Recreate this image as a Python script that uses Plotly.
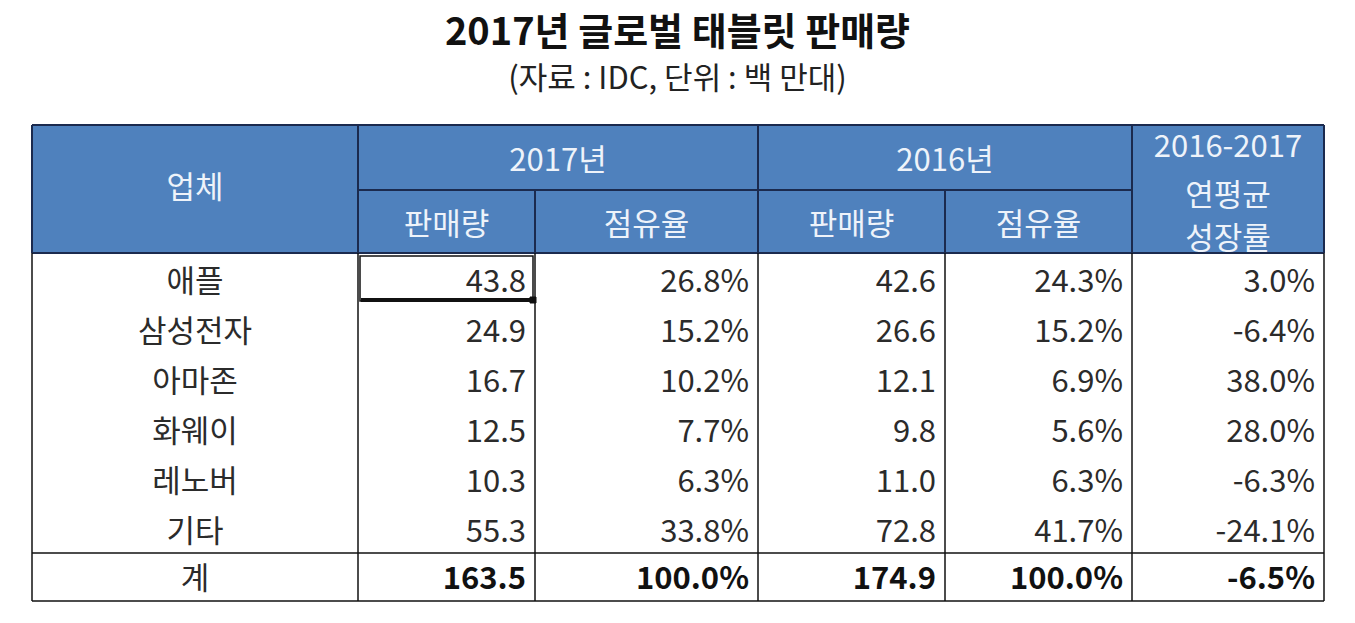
import plotly.graph_objects as go

# ---- data ----
title = "2017년 글로벌 태블릿 판매량"
subtitle = "(자료 : IDC, 단위 : 백 만대)"
companies = ["애플", "삼성전자", "아마존", "화웨이", "레노버", "기타"]
sales_2017 = [43.8, 24.9, 16.7, 12.5, 10.3, 55.3]
share_2017 = [26.8, 15.2, 10.2, 7.7, 6.3, 33.8]
sales_2016 = [42.6, 26.6, 12.1, 9.8, 11.0, 72.8]
share_2016 = [24.3, 15.2, 6.9, 5.6, 6.3, 41.7]
growth = [3.0, -6.4, 38.0, 28.0, -6.3, -24.1]
total_label = "계"
total_sales_2017 = 163.5
total_share_2017 = 100.0
total_sales_2016 = 174.9
total_share_2016 = 100.0
total_growth = -6.5
header_top = ["업체", "2017년", "2016년"]
header_growth = ["2016-2017", "연평균", "성장률"]
header_sub = ["판매량", "점유율", "판매량", "점유율"]

# ---- layout geometry (pixel-like coordinates on a blank axis) ----
W, H = 1355, 623
col = [32, 358, 535, 758, 945, 1132, 1324]
h_top, h_mid, h_bot = 125, 190, 253
row_h = 50
n = len(companies)
data_bot = h_bot + row_h * n
tot_bot = data_bot + 48
dy = 6  # baseline nudge for the font

HEAD_BG = "#4F81BD"
HEAD_LINE = "#1B2A4E"
HEAD_TXT = "#EEF3FA"
TXT = "#2B2B2B"
FONT = "Noto Sans CJK KR"
FS = 31
pad = 9

fig = go.Figure()
shapes = []

def rect(x0, y0, x1, y1, fill=None, color="black", width=1):
    shapes.append(dict(type="rect", xref="x", yref="y", x0=x0, y0=y0, x1=x1, y1=y1,
                       fillcolor=fill if fill else "rgba(0,0,0,0)",
                       line=dict(color=color, width=width), layer="below" if fill else "above"))

def line(x0, y0, x1, y1, color="black", width=1):
    shapes.append(dict(type="line", xref="x", yref="y", x0=x0, y0=y0, x1=x1, y1=y1,
                       line=dict(color=color, width=width)))

def text_trace(x, y, t, color, size=FS, pos="middle center"):
    fig.add_trace(go.Scatter(x=x, y=y, mode="text", text=t, cliponaxis=False,
                             textfont=dict(family=FONT, size=size, color=color),
                             textposition=pos, hoverinfo="skip"))

# header background
rect(col[0], h_top, col[-1], h_bot, fill=HEAD_BG, color=HEAD_BG, width=0)
# header lines
line(col[0], h_top, col[-1], h_top, HEAD_LINE, 2)
line(col[0], h_bot, col[-1], h_bot, HEAD_LINE, 2)
line(col[1], h_mid, col[5], h_mid, HEAD_LINE, 2)
for c in [col[0], col[1], col[3], col[5], col[6]]:
    line(c, h_top, c, h_bot, HEAD_LINE, 2)
for c in [col[2], col[4]]:
    line(c, h_mid, c, h_bot, HEAD_LINE, 2)
# body borders
for c in col:
    line(c, h_bot, c, tot_bot, "#111111", 1.5)
line(col[0], data_bot, col[-1], data_bot, "#111111", 1.5)
line(col[0], tot_bot, col[-1], tot_bot, "#111111", 1.5)
# excel selected cell
rect(col[1] + 2, h_bot + 3, col[2] - 2, h_bot + row_h - 2, color="#111111", width=1.5)
line(col[1] + 3, h_bot + row_h - 3, col[2] - 3, h_bot + row_h - 3, "#111111", 4)
rect(col[2] - 5, h_bot + row_h - 6, col[2] + 1, h_bot + row_h, fill="#111111", color="#111111", width=1)

# header texts
hx = [(col[0] + col[1]) / 2, (col[1] + col[3]) / 2, (col[3] + col[5]) / 2]
hy = [(h_top + h_bot) / 2 - 5 + dy, (h_top + h_mid) / 2 + dy, (h_top + h_mid) / 2 + dy]
text_trace(hx, hy, header_top, HEAD_TXT)
gx = (col[5] + col[6]) / 2
text_trace([gx] * 3, [146 + 3, 192 + dy, 235 + dy], header_growth, HEAD_TXT)
sx = [(col[i] + col[i + 1]) / 2 for i in range(1, 5)]
text_trace(sx, [(h_mid + h_bot) / 2 + dy] * 4, header_sub, HEAD_TXT)

# body texts
ry = [h_bot + row_h * (i + 0.5) + dy for i in range(n)]
text_trace([(col[0] + col[1]) / 2] * n, ry, companies, TXT)
cols_vals = [
    [f"{v:.1f}" for v in sales_2017],
    [f"{v:.1f}%" for v in share_2017],
    [f"{v:.1f}" for v in sales_2016],
    [f"{v:.1f}%" for v in share_2016],
    [f"{v:.1f}%" for v in growth],
]
for j, vals in enumerate(cols_vals):
    text_trace([col[j + 2] - pad] * n, ry, vals, TXT, pos="middle left")

# total row
ty = (data_bot + tot_bot) / 2 + 4
text_trace([(col[0] + col[1]) / 2], [ty], [total_label], TXT)
tot_vals = [f"{total_sales_2017:.1f}", f"{total_share_2017:.1f}%",
            f"{total_sales_2016:.1f}", f"{total_share_2016:.1f}%", f"{total_growth:.1f}%"]
text_trace([col[j + 2] - pad for j in range(5)], [ty] * 5,
           [f"<b>{t}</b>" for t in tot_vals], "#111111", pos="middle left")

# titles
text_trace([W / 2], [35], [f"<b>{title}</b>"], "#111111", size=38)
text_trace([W / 2], [81], [subtitle], "#222222", size=31)

fig.update_layout(
    width=W, height=H, margin=dict(l=0, r=0, t=0, b=0),
    paper_bgcolor="white", plot_bgcolor="white", showlegend=False,
    shapes=shapes,
    xaxis=dict(range=[0, W], visible=False, fixedrange=True),
    yaxis=dict(range=[H, 0], visible=False, fixedrange=True),
)
fig.write_html("out.html", config={"displayModeBar": False},
               post_script="document.body.style.margin='0';document.body.style.overflow='hidden';")
